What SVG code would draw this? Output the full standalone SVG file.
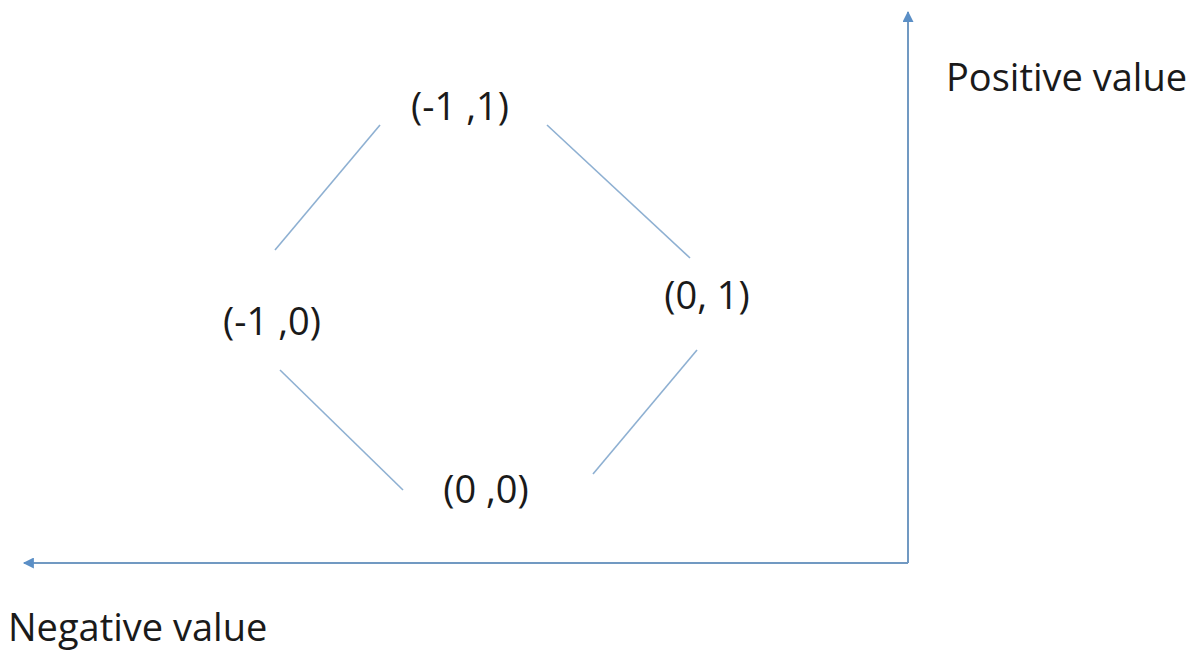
<svg xmlns="http://www.w3.org/2000/svg" width="1194" height="652" viewBox="0 0 1194 652">
<style>
.t{font-family:"Open Sans","Liberation Sans",sans-serif;font-size:38px;fill:#1a1a1a}
.c{text-anchor:middle}
.d{stroke:#8eb0d2;stroke-width:1.6;fill:none}
.a{stroke:#7199c2;stroke-width:2;fill:none}
</style>
<defs>
<marker id="ah" viewBox="0 0 10 10" refX="9" refY="5" markerWidth="13" markerHeight="11" orient="auto" markerUnits="userSpaceOnUse">
<path d="M0,0 L10,5 L0,10 z" fill="#5b8fc6"/>
</marker>
</defs>
<rect width="1194" height="652" fill="#ffffff"/>
<g id="connectors">
<line class="d" x1="275" y1="250" x2="380" y2="125"/>
<line class="d" x1="547" y1="125" x2="690" y2="258"/>
<line class="d" x1="280" y1="370" x2="403" y2="490"/>
<line class="d" x1="593" y1="474" x2="697" y2="350"/>
</g>
<g id="axes">
<path class="a" d="M908,563 L908,12" marker-end="url(#ah)"/>
<path class="a" d="M908,563 L24,563" marker-end="url(#ah)"/>
</g>
<g id="node-m1-1"><text class="t c" x="460" y="120">(-1 ,1)</text></g>
<g id="node-m1-0"><text class="t c" x="272" y="335">(-1 ,0)</text></g>
<g id="node-0-1"><text class="t c" x="707" y="309">(0, 1)</text></g>
<g id="node-0-0"><text class="t c" x="486" y="503">(0 ,0)</text></g>
<g id="label-pos"><text class="t" x="946" y="91">Positive value</text></g>
<g id="label-neg"><text class="t" x="8" y="641">Negative value</text></g>
</svg>
